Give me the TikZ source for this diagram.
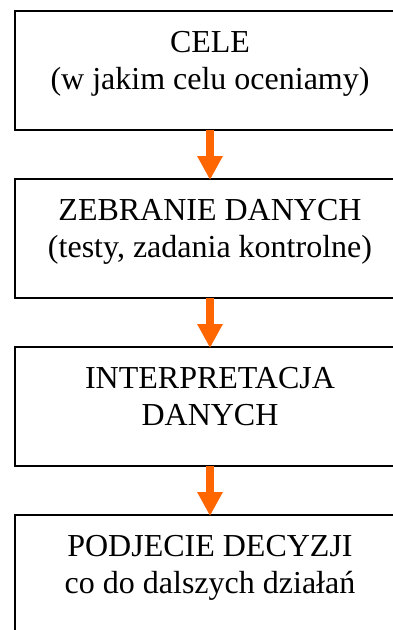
\documentclass[tikz,border=0pt]{standalone}
\usepackage{fontspec}
\setmainfont{Liberation Serif}
\usetikzlibrary{arrows.meta}
\definecolor{arrorange}{HTML}{FF6600}
\tikzset{
  box/.style={draw=black, line width=2pt, minimum width=390pt, minimum height=119pt, inner sep=0pt, outer sep=0pt},
  boxtext/.style={anchor=north, align=center, inner sep=0pt, font=\fontsize{32}{37}\selectfont},
  flow/.style={draw=arrorange, line width=8pt, -{Triangle[width=24pt,length=24pt]}, shorten >=-1pt}
}
\begin{document}
\begin{tikzpicture}[x=1pt,y=-1pt]
\useasboundingbox (0,0) rectangle (393,630);
\clip (0,0) rectangle (393,630);
\node[box] (b1) at (210,70.5) {};
\node[box] (b2) at (210,238.5) {};
\node[box] (b3) at (210,406.5) {};
\node[box] (b4) at (210,574.5) {};
\node[boxtext] (t1) at (210,31) {CELE\\(w jakim celu oceniamy)};
\node[boxtext] (t2) at (210,199) {ZEBRANIE DANYCH\\(testy, zadania kontrolne)};
\node[boxtext] (t3) at (210,367) {INTERPRETACJA\\DANYCH};
\node[boxtext] (t4) at (210,535) {PODJECIE DECYZJI\\co do dalszych działań};
\draw[flow] (b1.south) -- (b2.north);
\draw[flow] (b2.south) -- (b3.north);
\draw[flow] (b3.south) -- (b4.north);
\end{tikzpicture}
\end{document}
